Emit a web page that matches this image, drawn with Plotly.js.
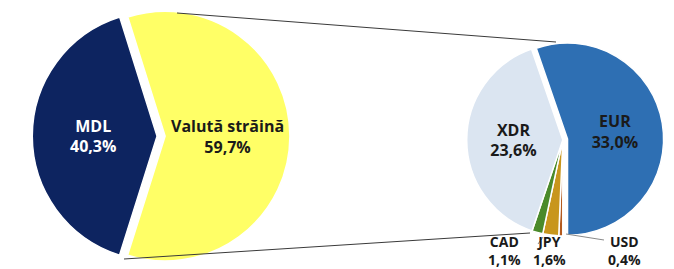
<!DOCTYPE html>
<html>
<head>
<meta charset="utf-8">
<script src="https://cdn.plot.ly/plotly-3.0.1.min.js"></script>
<style>html,body{margin:0;padding:0;background:#fff;}#chart{width:674px;height:269px;}</style>
</head>
<body>
<div id="chart"></div>
<script>
// Structure of the money supply by currency (%)
var mainLabels = ['MDL', 'Valută străină'];
var mainValues = [40.3, 59.7];
var mainColors = ['#0d2460', '#ffff66'];

// Breakdown of foreign currency (%), in drawing order (clockwise)
var fxLabels = ['EUR', 'USD', 'JPY', 'CAD', 'XDR'];
var fxValues = [33.0, 0.4, 1.6, 1.1, 23.6];
var fxColors = ['#2e6fb3', '#b35a1e', '#c8961c', '#4a8a2a', '#dbe5f1'];

var FONT = 'Open Sans, Noto Sans, sans-serif';
function fmt(v) { return v.toFixed(1).replace('.', ',') + '%'; }

var mainTrace = {
  type: 'pie',
  labels: mainLabels,
  values: mainValues,
  sort: false,
  direction: 'clockwise',
  rotation: -162.5,
  pull: [0, 0.065],
  marker: { colors: mainColors, line: { color: '#ffffff', width: 1.5 } },
  texttemplate: '%{label}<br>%{value:.1f}%',
  textposition: 'inside',
  insidetextorientation: 'horizontal',
  textfont: { family: FONT, size: 16, weight: 'bold', color: ['#ffffff', '#1a1a1a'] },
  hoverinfo: 'none',
  showlegend: false,
  domain: { x: [0.034, 0.432], y: [0.0, 0.988] }
};

var bigSlice = fxValues.map(function (v) { return v > 5; });
var fxTrace = {
  type: 'pie',
  labels: fxLabels,
  values: fxValues,
  sort: false,
  direction: 'clockwise',
  rotation: -19,
  pull: fxLabels.map(function (l) { return l === 'EUR' ? 0.05 : 0; }),
  marker: { colors: fxColors, line: { color: '#ffffff', width: 1.5 } },
  texttemplate: bigSlice.map(function (b) { return b ? '%{label}<br>%{value:.1f}%' : ''; }),
  textposition: bigSlice.map(function (b) { return b ? 'inside' : 'none'; }),
  insidetextorientation: 'horizontal',
  textfont: { family: FONT, size: 16, weight: 'bold', color: '#1a1a1a' },
  hoverinfo: 'none',
  showlegend: false,
  domain: { x: [0.685, 0.985], y: [0.105, 0.855] }
};

// outside labels for the small slices
var smallPos = { 'CAD': 505, 'JPY': 549, 'USD': 624 };
var annotations = [];
fxLabels.forEach(function (l, i) {
  if (bigSlice[i]) return;
  annotations.push({
    xref: 'paper', yref: 'paper',
    x: smallPos[l] / 674, y: (269 - 250) / 269,
    xanchor: 'center', yanchor: 'middle',
    text: l + '<br>' + fmt(fxValues[i]),
    showarrow: false,
    font: { family: FONT, size: 14, weight: 'bold', color: '#1a1a1a' }
  });
});

function px(x) { return x / 674; }
function py(y) { return (269 - y) / 269; }
function line(x0, y0, x1, y1, color) {
  return { type: 'line', xref: 'paper', yref: 'paper',
    x0: px(x0), y0: py(y0), x1: px(x1), y1: py(y1),
    line: { color: color, width: 1 } };
}
var shapes = [
  line(177, 13, 556, 42, '#3a3a3a'),
  line(124, 259, 530, 233, '#3a3a3a'),
  line(566, 234, 604, 240, '#8a8a8a'),
  line(538, 244, 543, 237, '#8a8a8a')
];

var layout = {
  width: 674, height: 269,
  margin: { l: 0, r: 0, t: 0, b: 0 },
  paper_bgcolor: '#ffffff',
  separators: ', ',
  showlegend: false,
  annotations: annotations,
  shapes: shapes
};

Plotly.newPlot('chart', [mainTrace, fxTrace], layout, { displayModeBar: false, staticPlot: true });
</script>
</body>
</html>
